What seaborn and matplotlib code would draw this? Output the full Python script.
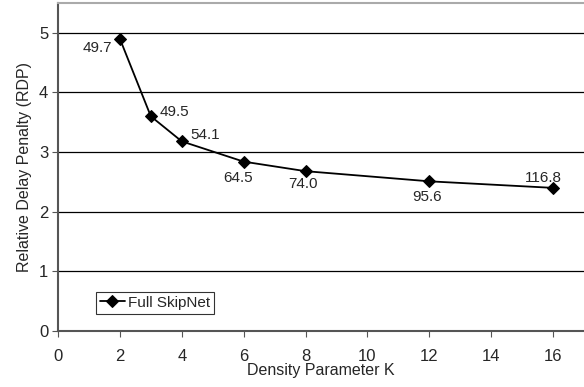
import numpy as np
import pandas as pd
import matplotlib
matplotlib.use("Agg")
import matplotlib.pyplot as plt
import seaborn as sns

# Data
k_values = [2, 3, 4, 6, 8, 12, 16]
rdp_values = [4.9, 3.6, 3.18, 2.84, 2.68, 2.51, 2.40]
point_labels = ["49.7", "49.5", "54.1", "64.5", "74.0", "95.6", "116.8"]
series_name = "Full SkipNet"

df = pd.DataFrame({"K": k_values, "RDP": rdp_values, "series": series_name})

sns.set_style("white")
plt.rcParams['font.family'] = ['Liberation Sans', 'DejaVu Sans']

fig = plt.figure(figsize=(5.84, 3.87), dpi=100)
ax = fig.add_axes([58 / 584, 1 - 331 / 387, 1 - 58 / 584, 328 / 387])

sns.lineplot(data=df, x="K", y="RDP", hue="series", palette=["black"],
             marker="D", markersize=6.5, markeredgecolor="black", linewidth=1.3, ax=ax)

# label offsets in pixels (dx, dy, ha)
offsets = [(-8, -9, "right"), (9, 4, "left"), (9, 6, "left"), (-6, -16, "center"),
           (-3, -13, "center"), (-2, -16, "center"), (-10, 10, "center")]
for x, y, lab, (dx, dy, ha) in zip(k_values, rdp_values, point_labels, offsets):
    ax.annotate(lab, (x, y), xytext=(dx, dy), textcoords="offset pixels",
                ha=ha, va="center", fontsize=11)

ax.set_xlim(0, 17)
ax.set_ylim(0, 5.5)
ax.set_xticks(np.arange(0, 17, 2))
ax.set_yticks(np.arange(0, 6, 1))
ax.yaxis.grid(True, color="black", linewidth=0.9)
ax.set_axisbelow(True)
ax.tick_params(axis="both", labelsize=12, length=4, color="#555555", direction="out")
ax.tick_params(axis="x", bottom=True, pad=9)
ax.tick_params(axis="y", left=True, pad=3)
for side in ["left", "bottom"]:
    ax.spines[side].set_color("#555555")
    ax.spines[side].set_linewidth(1.5)
ax.spines["top"].set_color("#aaaaaa")
ax.spines["top"].set_linewidth(1.5)
ax.spines["right"].set_visible(False)

ax.set_xlabel("Density Parameter K", fontsize=11.5, labelpad=-1)
ax.set_ylabel("Relative Delay Penalty (RDP)", fontsize=11.5, labelpad=5)

leg = ax.legend(loc="lower left", bbox_to_anchor=(0.073, 0.053), fontsize=11,
                frameon=True, fancybox=False, edgecolor="black", handlelength=1.6,
                borderpad=0.25, borderaxespad=0, handletextpad=0.2)
leg.get_frame().set_linewidth(0.8)

fig.savefig("out.png", dpi=100)
